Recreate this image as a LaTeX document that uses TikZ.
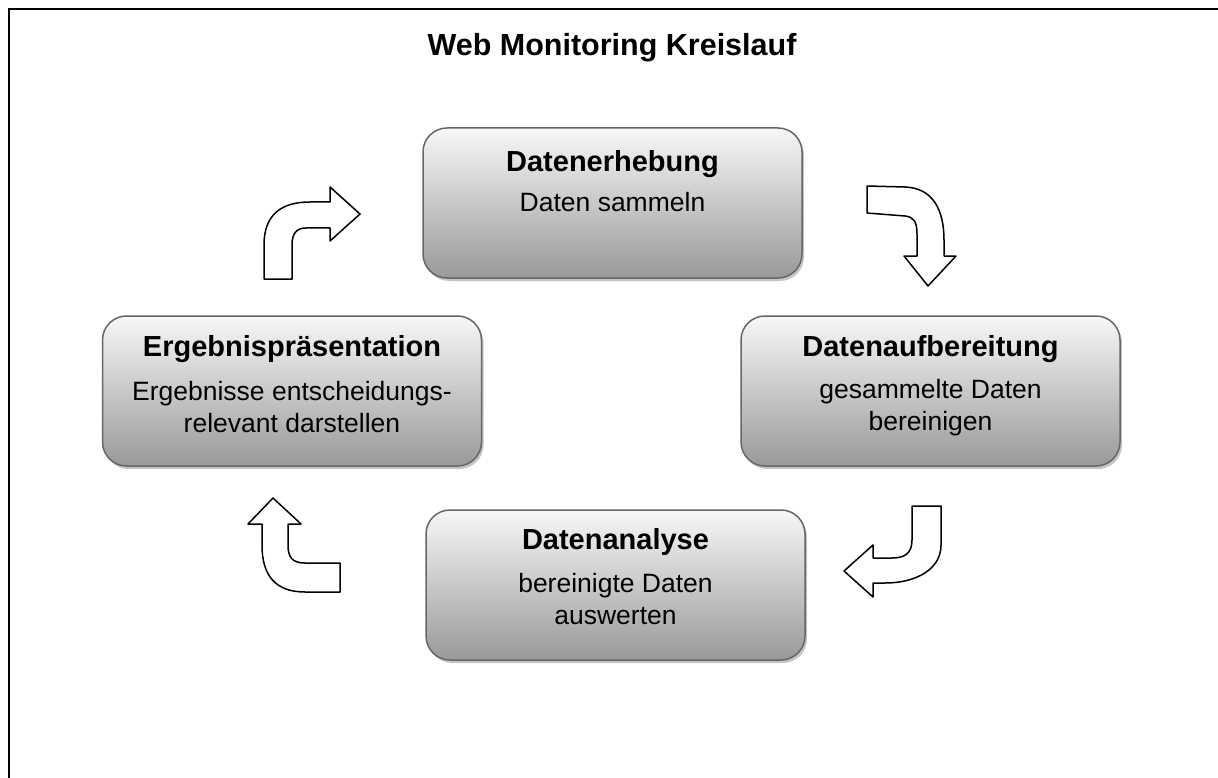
\documentclass[tikz,border=0pt]{standalone}
\usepackage{fontspec}
\setmainfont{Liberation Sans}
\usetikzlibrary{shadows}

\tikzset{
    boite/.style={draw=black!60, line width=1.5pt, rounded corners=24pt,
        minimum width=379pt, minimum height=150pt,
        top color=black!3, bottom color=black!40,
        drop shadow={shadow xshift=2pt, shadow yshift=-3pt, fill=black!45}},
    titre/.style={font=\fontsize{30.5}{36}\selectfont\bfseries},
    kopf/.style={font=\fontsize{29}{34}\selectfont\bfseries},
    texte/.style={font=\fontsize{26.5}{32}\selectfont, align=center},
    fleche/.style={draw=black, line width=1.5pt, fill=white, line join=round}
}

\begin{document}
\begin{tikzpicture}[x=1pt, y=-1pt]
    \useasboundingbox (0,0) rectangle (1218,778);

    % Cadre (seulement le bord gauche et le bord haut sont visibles)
    \draw[line width=2.5pt] (9,778) -- (9,9) -- (1218,9);

    % Titre
    \node[titre] (titel) at (612,48) {Web Monitoring Kreislauf};

    % Les quatre boites
    \node[boite] (erhebung) at (612.5,203) {};
    \node[boite] (praesentation) at (292,391) {};
    \node[boite] (aufbereitung) at (930.5,391) {};
    \node[boite] (analyse) at (615.5,585) {};

    % Textes des boites
    \node[kopf] (erhebungkopf) at ([yshift=-37pt]erhebung.north) {Datenerhebung};
    \node[texte] (erhebungtext) at ([yshift=-75pt]erhebung.north) {Daten sammeln};

    \node[kopf] (praesentationkopf) at ([yshift=-34pt]praesentation.north) {Ergebnispräsentation};
    \node[texte] (praesentationtext) at ([yshift=-92pt]praesentation.north) {Ergebnisse entscheidungs-\\relevant darstellen};

    \node[kopf] (aufbereitungkopf) at ([yshift=-34pt]aufbereitung.north) {Datenaufbereitung};
    \node[texte] (aufbereitungtext) at ([yshift=-92pt]aufbereitung.north) {gesammelte Daten\\bereinigen};

    \node[kopf] (analysekopf) at ([yshift=-33pt]analyse.north) {Datenanalyse};
    \node[texte] (analysetext) at ([yshift=-90pt]analyse.north) {bereinigte Daten\\auswerten};

    % Fleche en haut a gauche
    \draw[fleche] (264,279) -- (264,245) .. controls (264,214) and (282,202) .. (310,202)
        -- (330,202) -- (330,187) -- (360,214) -- (330,241) -- (330,228) -- (306,228)
        .. controls (297,228) and (292,233) .. (292,245) -- (292,279) -- cycle;

    % Fleche en haut a droite
    \draw[fleche] (867,186) -- (905,187) .. controls (933,188) and (944,210) .. (944,240)
        -- (944,256) -- (956,256) -- (928,286) -- (904,256) -- (917,256) -- (917,234)
        .. controls (917,222) and (914,217) .. (905,216) -- (867,213) -- cycle;

    % Fleche en bas a droite
    \draw[fleche] (912,506) -- (941,506) -- (941,545) .. controls (941,570) and (915,583) .. (885,583)
        -- (873,583) -- (873,597) -- (844,571) -- (873,545) -- (873,558) -- (892,558)
        .. controls (905,558) and (912,553) .. (912,540) -- cycle;

    % Fleche en bas a gauche
    \draw[fleche] (273,498) -- (301,524) -- (288,524) -- (288,545)
        .. controls (288,558) and (293,563) .. (305,563) -- (340,563) -- (340,592) -- (305,592)
        .. controls (275,592) and (262,575) .. (262,545) -- (262,524) -- (248,524) -- cycle;
\end{tikzpicture}
\end{document}
